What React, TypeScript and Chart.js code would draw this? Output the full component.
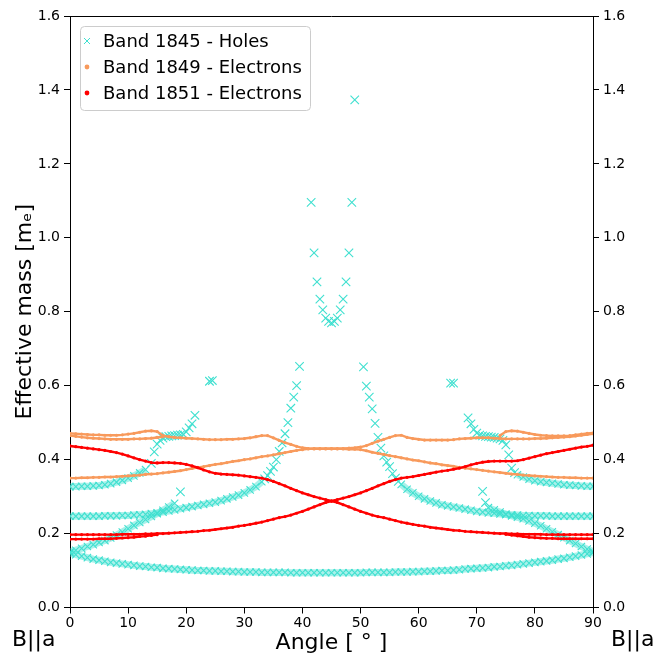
import React, { useEffect, useRef } from "react";
import { Chart, registerables } from "chart.js";

Chart.register(...registerables);

const TURQUOISE = "#40E0D0";
const TURQUOISE_BAND = "rgba(64,224,208,0.45)";
const ORANGE = "#F89A5C";
const RED = "#FF0000";

const SERIES_LABELS = ["Band 1845 - Holes", "Band 1849 - Electrons", "Band 1851 - Electrons"];
const X_TITLE = "Angle [ ° ]";
const Y_TITLE = "Effective mass [mₑ]";
const EDGE_LABEL = "B||a";

// angle grid (degrees)
const ANGLES = [
  0, 1, 2, 3, 4, 5, 6, 7, 8, 9, 10, 11, 12, 13, 14, 15, 16, 17, 18, 19,
  20, 21, 22, 23, 24, 25, 26, 27, 28, 29, 30, 31, 32, 33, 34, 35, 36, 37, 38, 39,
  40, 41, 42, 43, 44, 45, 46, 47, 48, 49, 50, 51, 52, 53, 54, 55, 56, 57, 58, 59,
  60, 61, 62, 63, 64, 65, 66, 67, 68, 69, 70, 71, 72, 73, 74, 75, 76, 77, 78, 79,
  80, 81, 82, 83, 84, 85, 86, 87, 88, 89, 90,
];

// ---------- Band 1845 (holes) ----------
const HOLE_LOW = [
  0.147, 0.143, 0.139, 0.135, 0.131, 0.128, 0.125, 0.122, 0.12, 0.118,
  0.116, 0.114, 0.112, 0.111, 0.109, 0.108, 0.106, 0.105, 0.104, 0.103,
  0.102, 0.101, 0.1, 0.1, 0.099, 0.099, 0.098, 0.098, 0.097, 0.097,
  0.096, 0.096, 0.096, 0.095, 0.095, 0.095, 0.095, 0.095, 0.094, 0.094,
  0.094, 0.094, 0.094, 0.094, 0.094, 0.094, 0.094, 0.094, 0.094, 0.094,
  0.094, 0.095, 0.095, 0.095, 0.095, 0.095, 0.096, 0.096, 0.096, 0.097,
  0.097, 0.098, 0.098, 0.099, 0.1, 0.1, 0.101, 0.102, 0.104, 0.105,
  0.106, 0.107, 0.108, 0.11, 0.111, 0.113, 0.114, 0.116, 0.118, 0.12,
  0.122, 0.124, 0.126, 0.128, 0.131, 0.133, 0.136, 0.139, 0.142, 0.145,
  0.148,
];
// 0..18
const HOLE_RISE_A_LEFT = [
  0.15, 0.155, 0.16, 0.165, 0.17, 0.176, 0.181, 0.188, 0.196, 0.204,
  0.213, 0.222, 0.23, 0.238, 0.246, 0.254, 0.263, 0.272, 0.282,
];
// 72..90
const HOLE_RISE_A_RIGHT = [
  0.27, 0.264, 0.258, 0.252, 0.248, 0.244, 0.24, 0.234, 0.228, 0.221,
  0.213, 0.205, 0.197, 0.189, 0.181, 0.173, 0.165, 0.158, 0.151,
];
const HOLE_A_END_ANGLES = [19, 71, 71.5];
const HOLE_A_END_MASS = [0.313, 0.314, 0.284];
// 0..33
const HOLE_MID_LEFT = [
  0.247, 0.247, 0.247, 0.247, 0.247, 0.247, 0.248, 0.248, 0.248, 0.249,
  0.249, 0.25, 0.251, 0.252, 0.254, 0.256, 0.258, 0.261, 0.264, 0.267,
  0.27, 0.273, 0.276, 0.279, 0.282, 0.285, 0.289, 0.294, 0.299, 0.304,
  0.31, 0.318, 0.327, 0.34,
];
// 57..90
const HOLE_MID_RIGHT = [
  0.333, 0.32, 0.31, 0.301, 0.294, 0.288, 0.283, 0.278, 0.275, 0.272,
  0.269, 0.266, 0.263, 0.26, 0.258, 0.256, 0.255, 0.253, 0.252, 0.251,
  0.25, 0.249, 0.249, 0.248, 0.248, 0.248, 0.247, 0.247, 0.247, 0.247,
  0.247, 0.247, 0.247, 0.247,
];
const HOLE_STEEP_LEFT_ANGLES = [33.5, 34, 34.5, 35, 35.5, 36, 36.5, 37, 37.5, 38, 38.5, 39, 39.5];
const HOLE_STEEP_LEFT_MASS = [0.348, 0.357, 0.368, 0.38, 0.4, 0.422, 0.445, 0.47, 0.5, 0.539, 0.569, 0.6, 0.652];
const HOLE_PEAK_ANGLES = [41.5, 42, 42.5, 43, 43.5, 44, 44.5, 45, 45.5, 46, 46.5, 47, 47.5, 48, 48.5, 49];
const HOLE_PEAK_MASS = [1.096, 0.959, 0.881, 0.834, 0.805, 0.783, 0.774, 0.77, 0.774, 0.783, 0.805, 0.834, 0.881, 0.959, 1.096, 1.373];
const HOLE_STEEP_RIGHT_ANGLES = [50.5, 51, 51.5, 52, 52.5, 53, 53.5, 54, 54.5, 55, 55.5, 56, 56.5];
const HOLE_STEEP_RIGHT_MASS = [0.651, 0.599, 0.569, 0.537, 0.498, 0.46, 0.431, 0.41, 0.393, 0.381, 0.362, 0.35, 0.341];
// 0..13
const HOLE_UP_LEFT = [0.327, 0.327, 0.328, 0.328, 0.329, 0.33, 0.332, 0.335, 0.339, 0.344, 0.35, 0.356, 0.364, 0.373];
// 77..90
const HOLE_UP_RIGHT = [0.359, 0.353, 0.347, 0.343, 0.34, 0.338, 0.336, 0.334, 0.332, 0.331, 0.33, 0.329, 0.328, 0.328];
const HOLE_UP_LEFT_SCATTER_ANGLES = [14, 14.5, 15, 15.5, 16, 16.5, 17, 17.5, 18, 18.5, 19, 19.5, 20, 20.5, 21, 21.5, 24, 24.5];
const HOLE_UP_LEFT_SCATTER_MASS = [0.39, 0.421, 0.442, 0.452, 0.458, 0.462, 0.463, 0.464, 0.465, 0.466, 0.467, 0.468, 0.475, 0.486, 0.497, 0.52, 0.612, 0.614];
const HOLE_UP_RIGHT_SCATTER_ANGLES = [65.5, 66, 68.5, 69, 69.5, 70, 70.5, 71, 71.5, 72, 72.5, 73, 73.5, 74, 74.5, 75, 75.5, 76, 76.5];
const HOLE_UP_RIGHT_SCATTER_MASS = [0.607, 0.607, 0.513, 0.497, 0.482, 0.472, 0.466, 0.464, 0.463, 0.462, 0.461, 0.46, 0.458, 0.456, 0.452, 0.44, 0.413, 0.377, 0.365];

// ---------- Band 1849 (electrons, orange) ----------
const E1849_DOWN = [
  0.471, 0.47, 0.469, 0.468, 0.467, 0.467, 0.466, 0.466, 0.466, 0.467,
  0.469, 0.471, 0.474, 0.477, 0.478, 0.476, 0.465, 0.462, 0.46, 0.459,
  0.458, 0.457, 0.456, 0.455, 0.454, 0.454, 0.454, 0.455, 0.455, 0.456,
  0.457, 0.459, 0.462, 0.465, 0.465, 0.459, 0.452, 0.446, 0.441, 0.436,
  0.432, 0.43, 0.429, 0.429, 0.429, 0.429, 0.429, 0.429, 0.428, 0.428,
  0.427, 0.424, 0.42, 0.417, 0.414, 0.411, 0.408, 0.405, 0.402, 0.399,
  0.397, 0.394, 0.391, 0.389, 0.386, 0.384, 0.382, 0.379, 0.377, 0.375,
  0.373, 0.371, 0.369, 0.367, 0.365, 0.363, 0.361, 0.36, 0.358, 0.357,
  0.356, 0.355, 0.354, 0.353, 0.352, 0.352, 0.351, 0.351, 0.35, 0.35,
  0.35,
];
const E1849_UP = [
  0.35, 0.35, 0.351, 0.351, 0.352, 0.352, 0.353, 0.353, 0.354, 0.355,
  0.356, 0.357, 0.358, 0.36, 0.361, 0.362, 0.364, 0.366, 0.368, 0.37,
  0.373, 0.376, 0.379, 0.381, 0.384, 0.387, 0.389, 0.392, 0.395, 0.397,
  0.4, 0.402, 0.405, 0.408, 0.41, 0.413, 0.416, 0.419, 0.422, 0.425,
  0.427, 0.429, 0.43, 0.43, 0.43, 0.43, 0.43, 0.43, 0.431, 0.432,
  0.434, 0.438, 0.444, 0.45, 0.455, 0.46, 0.465, 0.466, 0.46, 0.457,
  0.455, 0.453, 0.453, 0.453, 0.453, 0.453, 0.454, 0.456, 0.457, 0.458,
  0.459, 0.459, 0.459, 0.458, 0.457, 0.456, 0.456, 0.456, 0.456, 0.456,
  0.457, 0.457, 0.458, 0.459, 0.46, 0.461, 0.462, 0.464, 0.466, 0.468,
  0.47,
];
// 0..16
const E1849_SIDE_LEFT = [0.465, 0.463, 0.461, 0.459, 0.458, 0.457, 0.456, 0.455, 0.455, 0.455, 0.455, 0.456, 0.456, 0.457, 0.458, 0.46, 0.462];
// 74..90
const E1849_SIDE_RIGHT = [0.465, 0.476, 0.478, 0.477, 0.474, 0.471, 0.468, 0.466, 0.465, 0.464, 0.464, 0.464, 0.465, 0.467, 0.469, 0.471, 0.472];

// ---------- Band 1851 (electrons, red) ----------
const E1851_DOWN = [
  0.437, 0.435, 0.433, 0.431, 0.429, 0.427, 0.425, 0.422, 0.419, 0.415,
  0.41, 0.405, 0.4, 0.396, 0.392, 0.391, 0.392, 0.392, 0.391, 0.39,
  0.387, 0.383, 0.378, 0.372, 0.367, 0.363, 0.361, 0.36, 0.359, 0.358,
  0.356, 0.354, 0.352, 0.35, 0.346, 0.341, 0.335, 0.329, 0.322, 0.316,
  0.31, 0.305, 0.3, 0.296, 0.292, 0.288, 0.284, 0.278, 0.272, 0.266,
  0.26, 0.255, 0.25, 0.246, 0.243, 0.239, 0.235, 0.231, 0.228, 0.225,
  0.222, 0.22, 0.217, 0.215, 0.213, 0.211, 0.209, 0.208, 0.206, 0.205,
  0.204, 0.203, 0.202, 0.201, 0.2, 0.2, 0.199, 0.199, 0.198, 0.198,
  0.198, 0.198, 0.197, 0.197, 0.197, 0.197, 0.197, 0.197, 0.197, 0.197,
  0.197,
];
const E1851_UP = [
  0.197, 0.197, 0.197, 0.197, 0.197, 0.197, 0.197, 0.197, 0.197, 0.198,
  0.198, 0.198, 0.198, 0.199, 0.199, 0.2, 0.2, 0.201, 0.202, 0.203,
  0.204, 0.205, 0.206, 0.208, 0.209, 0.211, 0.213, 0.215, 0.217, 0.22,
  0.222, 0.225, 0.228, 0.231, 0.235, 0.239, 0.243, 0.246, 0.25, 0.255,
  0.26, 0.266, 0.272, 0.278, 0.284, 0.288, 0.292, 0.296, 0.3, 0.305,
  0.31, 0.316, 0.322, 0.329, 0.335, 0.341, 0.346, 0.35, 0.352, 0.354,
  0.357, 0.36, 0.363, 0.366, 0.369, 0.371, 0.374, 0.377, 0.381, 0.386,
  0.39, 0.393, 0.395, 0.396, 0.396, 0.396, 0.396, 0.397, 0.4, 0.404,
  0.408, 0.412, 0.416, 0.419, 0.422, 0.425, 0.428, 0.431, 0.434, 0.436,
  0.439,
];
// 0..15
const E1851_SIDE_LEFT = [0.185, 0.185, 0.185, 0.185, 0.185, 0.186, 0.186, 0.186, 0.187, 0.188, 0.189, 0.19, 0.192, 0.193, 0.195, 0.197];
// 75..90
const E1851_SIDE_RIGHT = [0.198, 0.196, 0.194, 0.192, 0.19, 0.189, 0.188, 0.187, 0.187, 0.186, 0.186, 0.186, 0.186, 0.186, 0.186, 0.186];

const Y_TICK_STEP = 0.2;
const X_TICK_STEP = 10;

function pts(angles: number[], values: number[]) {
  return values.map((v, i) => ({ x: angles[i], y: v }));
}
function from(start: number, values: number[]) {
  const s = ANGLES.indexOf(start);
  return pts(ANGLES.slice(s, s + values.length), values);
}

function holeBand(data: any[]) {
  return {
    label: SERIES_LABELS[0],
    data,
    showLine: true,
    borderColor: TURQUOISE_BAND,
    borderWidth: 7,
    pointStyle: "crossRot",
    pointRadius: 5.2,
    pointBorderColor: TURQUOISE,
    pointBackgroundColor: "rgba(0,0,0,0)",
    pointBorderWidth: 1.1,
    order: 3,
  };
}
function holeScatter(data: any[]) {
  return {
    label: SERIES_LABELS[0],
    data,
    showLine: false,
    pointStyle: "crossRot",
    pointRadius: 6,
    pointBorderColor: TURQUOISE,
    pointBackgroundColor: "rgba(0,0,0,0)",
    pointBorderWidth: 1.1,
    order: 3,
  };
}
function electronLine(label: string, color: string, data: any[], order: number) {
  return {
    label,
    data,
    showLine: true,
    borderColor: color,
    borderWidth: 2.4,
    pointStyle: "circle",
    pointRadius: 1.6,
    pointBackgroundColor: color,
    pointBorderWidth: 0,
    order,
  };
}

const overlayPlugin = {
  id: "overlay",
  afterDraw(chart: any) {
    const ctx = chart.ctx as CanvasRenderingContext2D;
    const { top, left, right } = chart.chartArea;
    ctx.save();
    // top frame line
    ctx.strokeStyle = "#000";
    ctx.lineWidth = 1;
    ctx.beginPath();
    const ty = Math.round(top) + 0.5;
    ctx.moveTo(left, ty);
    ctx.lineTo(right, ty);
    ctx.stroke();

    // edge labels
    ctx.fillStyle = "#000";
    ctx.font = "22px 'DejaVu Sans'";
    ctx.textBaseline = "alphabetic";
    ctx.textAlign = "left";
    ctx.fillText(EDGE_LABEL, 12, 646);
    ctx.fillText(EDGE_LABEL, 611, 646);

    // legend
    const bx = 80.5, by = 26.5, bw = 230, bh = 84;
    ctx.beginPath();
    (ctx as any).roundRect(bx, by, bw, bh, 4);
    ctx.fillStyle = "rgba(255,255,255,0.85)";
    ctx.fill();
    ctx.strokeStyle = "#cccccc";
    ctx.stroke();
    const rows = [41, 67, 93];
    ctx.strokeStyle = TURQUOISE;
    ctx.lineWidth = 1;
    ctx.beginPath();
    ctx.moveTo(84, rows[0] - 3);
    ctx.lineTo(90, rows[0] + 3);
    ctx.moveTo(90, rows[0] - 3);
    ctx.lineTo(84, rows[0] + 3);
    ctx.stroke();
    ctx.fillStyle = ORANGE;
    ctx.beginPath();
    ctx.arc(87, rows[1], 2.4, 0, Math.PI * 2);
    ctx.fill();
    ctx.fillStyle = RED;
    ctx.beginPath();
    ctx.arc(87, rows[2], 2.4, 0, Math.PI * 2);
    ctx.fill();
    ctx.fillStyle = "#000";
    ctx.font = "18px 'DejaVu Sans'";
    ctx.textBaseline = "middle";
    SERIES_LABELS.forEach((t, i) => ctx.fillText(t, 103, rows[i] + 1));
    ctx.restore();
  },
};

export default function App() {
  const ref = useRef<HTMLCanvasElement | null>(null);
  useEffect(() => {
    if (!ref.current) return;
    Chart.defaults.font.family = "'DejaVu Sans', sans-serif";
    Chart.defaults.color = "#000";

    const datasets: any[] = [
      electronLine(SERIES_LABELS[2], RED, from(0, E1851_DOWN), 0),
      electronLine(SERIES_LABELS[2], RED, from(0, E1851_UP), 0),
      electronLine(SERIES_LABELS[2], RED, from(0, E1851_SIDE_LEFT), 0),
      electronLine(SERIES_LABELS[2], RED, from(75, E1851_SIDE_RIGHT), 0),
      electronLine(SERIES_LABELS[1], ORANGE, from(0, E1849_DOWN), 1),
      electronLine(SERIES_LABELS[1], ORANGE, from(0, E1849_UP), 1),
      electronLine(SERIES_LABELS[1], ORANGE, from(0, E1849_SIDE_LEFT), 1),
      electronLine(SERIES_LABELS[1], ORANGE, from(74, E1849_SIDE_RIGHT), 1),
      holeBand(from(0, HOLE_LOW)),
      holeBand(from(0, HOLE_RISE_A_LEFT)),
      holeBand(from(72, HOLE_RISE_A_RIGHT)),
      holeBand(from(0, HOLE_MID_LEFT)),
      holeBand(from(57, HOLE_MID_RIGHT)),
      holeBand(from(0, HOLE_UP_LEFT)),
      holeBand(from(77, HOLE_UP_RIGHT)),
      holeScatter(pts(HOLE_A_END_ANGLES, HOLE_A_END_MASS)),
      holeScatter(pts(HOLE_STEEP_LEFT_ANGLES, HOLE_STEEP_LEFT_MASS)),
      holeScatter(pts(HOLE_PEAK_ANGLES, HOLE_PEAK_MASS)),
      holeScatter(pts(HOLE_STEEP_RIGHT_ANGLES, HOLE_STEEP_RIGHT_MASS)),
      holeScatter(pts(HOLE_UP_LEFT_SCATTER_ANGLES, HOLE_UP_LEFT_SCATTER_MASS)),
      holeScatter(pts(HOLE_UP_RIGHT_SCATTER_ANGLES, HOLE_UP_RIGHT_SCATTER_MASS)),
    ];

    const tickFont = { size: 14, family: "'DejaVu Sans', sans-serif" };
    const grid = {
      drawOnChartArea: false,
      drawTicks: true,
      tickLength: 6,
      color: "#000",
      lineWidth: 1,
    };
    const yTicks = {
      stepSize: Y_TICK_STEP,
      font: tickFont,
      color: "#000",
      padding: 4,
      callback: (v: any) => Number(v).toFixed(1),
    };

    const chart = new Chart(ref.current, {
      type: "scatter",
      data: { datasets },
      plugins: [overlayPlugin],
      options: {
        responsive: false,
        animation: false,
        devicePixelRatio: 1,
        events: [],
        layout: { padding: { top: 16, left: 0, right: 0, bottom: 0 } },
        plugins: { legend: { display: false }, tooltip: { enabled: false } },
        scales: {
          x: {
            type: "linear",
            min: 0,
            max: 90,
            position: "bottom",
            grid,
            border: { display: true, color: "#000", width: 1 },
            ticks: {
              stepSize: X_TICK_STEP,
              font: tickFont,
              color: "#000",
              padding: 1,
              maxRotation: 0,
              callback: (v: any) => String(v),
            },
            title: {
              display: true,
              text: X_TITLE,
              font: { size: 22, family: "'DejaVu Sans', sans-serif" },
              color: "#000",
              padding: { top: 0, bottom: 2 },
            },
            afterFit: (s: any) => {
              s.height = 50.5;
            },
          },
          y: {
            type: "linear",
            min: 0,
            max: 1.6,
            position: "left",
            grid,
            border: { display: true, color: "#000", width: 1 },
            ticks: yTicks,
            title: {
              display: true,
              text: Y_TITLE,
              font: { size: 22, family: "'DejaVu Sans', sans-serif" },
              color: "#000",
              padding: { top: 12, bottom: 0 },
            },
            afterFit: (s: any) => {
              s.width = 70;
            },
          },
          y2: {
            type: "linear",
            min: 0,
            max: 1.6,
            position: "right",
            grid,
            border: { display: true, color: "#000", width: 1 },
            ticks: yTicks,
            afterFit: (s: any) => {
              s.width = 76;
            },
          },
        },
      } as any,
    });
    return () => chart.destroy();
  }, []);

  return (
    <div style={{ position: "absolute", left: 0, top: 0, width: 669, height: 658, background: "#fff" }}>
      <canvas ref={ref} width={669} height={658} style={{ width: 669, height: 658, display: "block" }} />
    </div>
  );
}
